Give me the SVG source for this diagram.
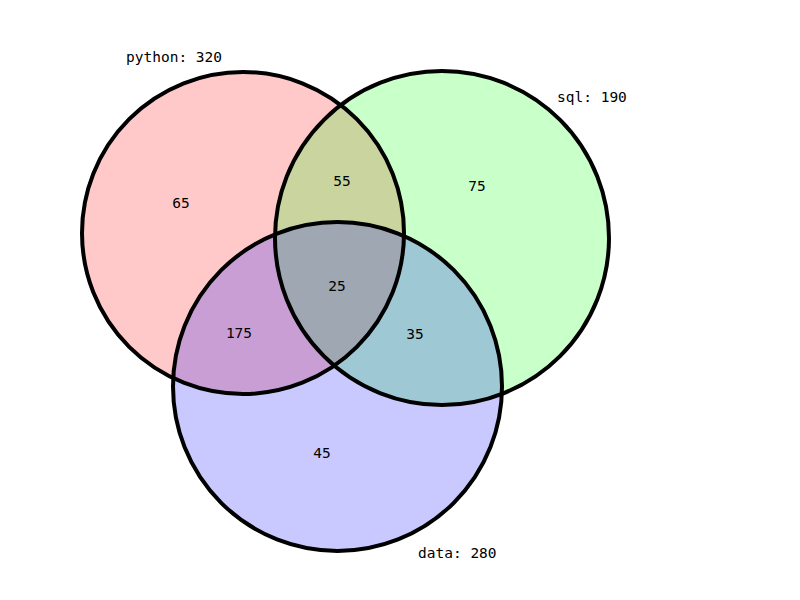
<svg xmlns="http://www.w3.org/2000/svg" width="800" height="600" viewBox="0 0 800 600">
<style>
.set{stroke:none;opacity:0.21}
.ring{fill:none;stroke:#000;stroke-width:4}
text{font-family:"DejaVu Sans Mono","Liberation Mono",monospace;font-size:14.5px;fill:#000}
.c{text-anchor:middle}
</style>
<rect width="800" height="600" fill="#fff"/>
<g id="python">
<circle class="set" cx="243" cy="233" r="161" fill="#ff0000"/>
</g>
<g id="sql">
<circle class="set" cx="442" cy="238" r="167" fill="#00ff00"/>
</g>
<g id="data">
<circle class="set" cx="337.5" cy="386.5" r="164.5" fill="#0000ff"/>
</g>
<g id="outlines">
<circle class="ring" cx="243" cy="233" r="161"/>
<circle class="ring" cx="442" cy="238" r="167"/>
<circle class="ring" cx="337.5" cy="386.5" r="164.5"/>
</g>
<g id="labels">
<text x="126" y="62">python: 320</text>
<text x="557" y="102">sql: 190</text>
<text x="418" y="558">data: 280</text>
<text class="c" x="181" y="208">65</text>
<text class="c" x="342" y="186">55</text>
<text class="c" x="477" y="191">75</text>
<text class="c" x="337" y="291">25</text>
<text class="c" x="239" y="338">175</text>
<text class="c" x="415" y="339">35</text>
<text class="c" x="322" y="458">45</text>
</g>
</svg>
